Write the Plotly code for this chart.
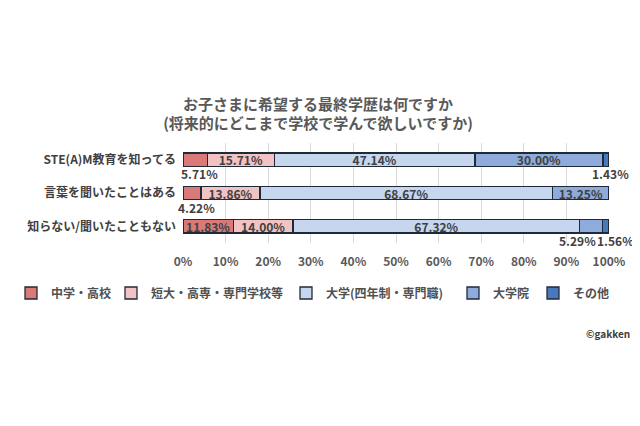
import plotly.graph_objects as go

categories = ["STE(A)M教育を知ってる", "言葉を聞いたことはある", "知らない/聞いたこともない"]
series_names = ["中学・高校", "短大・高専・専門学校等", "大学(四年制・専門職)", "大学院", "その他"]
values = {
    "中学・高校": [5.71, 4.22, 11.83],
    "短大・高専・専門学校等": [15.71, 13.86, 14.00],
    "大学(四年制・専門職)": [47.14, 68.67, 67.32],
    "大学院": [30.00, 13.25, 5.29],
    "その他": [1.43, 0.0, 1.56],
}
colors = ["#d97a78", "#f2c3c3", "#c5d6ee", "#8eabdb", "#4a79bb"]
tick_vals = [0, 10, 20, 30, 40, 50, 60, 70, 80, 90, 100]
tick_text = [f"{v}%" for v in tick_vals]

FONT = "Noto Sans CJK JP"
TXT = "#404040"

# page body has an 8px margin: lay out in figure coords = target - 8
PL, PR, PT, PB = 175, 601, 135, 235
# left edges (figure px) of the five legend entries
legend_x = [3, 103, 278, 445, 525]
legend_ids = ["legend", "legend2", "legend3", "legend4", "legend5"]

fig = go.Figure()
for name, col, lid in zip(series_names, colors, legend_ids):
    vals = values[name]
    txt = [f"<b>{v:.2f}%</b>" if v >= 8 else "" for v in vals]
    fig.add_trace(go.Bar(
        y=categories, x=vals, name=f"<b>{name}</b>", orientation="h",
        marker=dict(color=col, line=dict(color="#1f2a38", width=1.3)),
        text=txt, textposition="inside", insidetextanchor="middle",
        textfont=dict(family=FONT, size=12, color=TXT),
        constraintext="none", cliponaxis=False,
        hoverinfo="x+name", legend=lid,
    ))

xshifts = {("中学・高校", 0): 4, ("中学・高校", 1): 5, ("その他", 0): 5,
           ("大学院", 2): -14, ("その他", 2): 10}
cum = [0.0, 0.0, 0.0]
annotations = []
for name in series_names:
    for i, v in enumerate(values[name]):
        if 0 < v < 8:
            annotations.append(dict(
                x=cum[i] + v / 2, y=categories[i], xref="x", yref="y",
                text=f"<b>{v:.2f}%</b>", showarrow=False, yshift=-14,
                xshift=xshifts.get((name, i), 0),
                font=dict(family=FONT, size=12, color=TXT)))
        cum[i] += v

annotations.append(dict(x=(600 - PL) / (PR - PL), y=(PB - 325) / (PB - PT),
                        xref="paper", yref="paper",
                        xanchor="center", yanchor="middle",
                        text="<b>©gakken</b>", showarrow=False,
                        font=dict(family=FONT, size=10, color="#404040")))

legend_style = dict(orientation="h", xref="container", yref="container",
                    y=1 - 285 / 426, xanchor="left", yanchor="middle",
                    font=dict(family=FONT, size=12, color="#505050"),
                    itemwidth=30, bgcolor="rgba(0,0,0,0)")
legends = {lid: dict(legend_style, x=lx / 640) for lid, lx in zip(legend_ids, legend_x)}

fig.update_layout(
    barmode="stack", bargap=0.6,
    width=640, height=426,
    margin=dict(l=PL, r=640 - PR, t=PT, b=426 - PB, autoexpand=False),
    paper_bgcolor="white", plot_bgcolor="white",
    title=dict(text="<b>お子さまに希望する最終学歴は何ですか<br>(将来的にどこまで学校で学んで欲しいですか)</b>",
               x=310 / 640, xanchor="center", y=1 - 101.5 / 426, yanchor="middle",
               font=dict(family=FONT, size=15, color="#595959")),
    xaxis=dict(range=[0, 100], tickvals=tick_vals, ticktext=[f"<b>{t}</b>" for t in tick_text],
               showgrid=True, gridcolor="#d9d9d9", gridwidth=1, zeroline=False,
               showline=False, ticks="", tickfont=dict(family=FONT, size=12, color="#595959"),
               ticklabelstandoff=10, fixedrange=True),
    yaxis=dict(range=[2.5, -0.5], autorange=False, showgrid=False, showline=False, ticks="",
               tickfont=dict(family=FONT, size=12, color="#404040"),
               ticklabelstandoff=6, type="category",
               tickvals=categories, ticktext=[f"<b>{c}</b>" for c in categories]),
    annotations=annotations,
    showlegend=True,
    **legends,
)
fig.write_html("out.html")
